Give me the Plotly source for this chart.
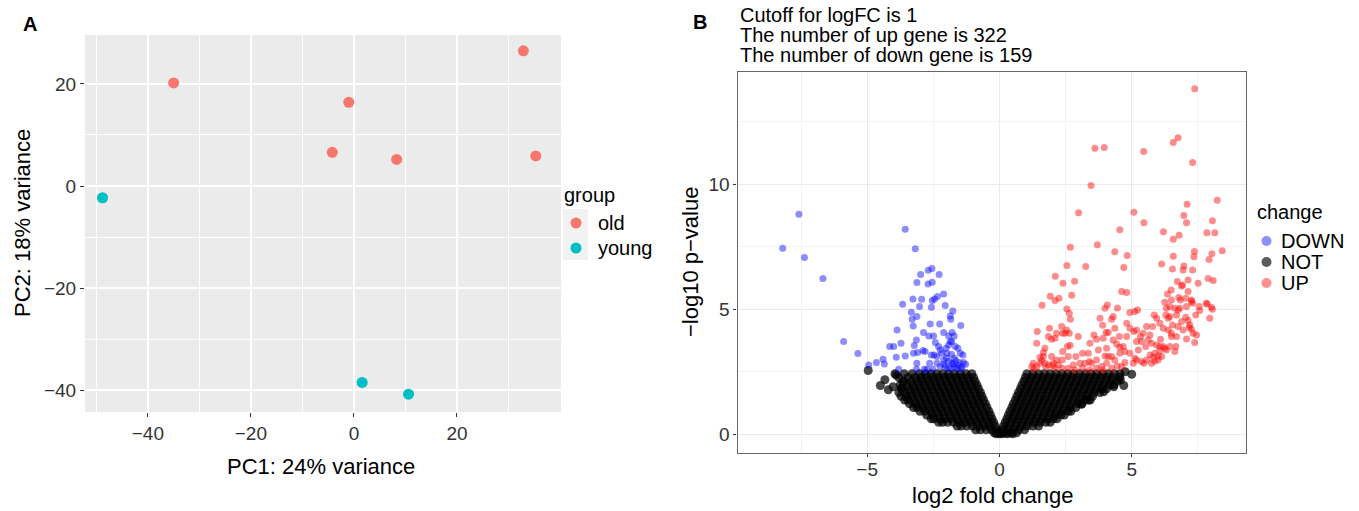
import plotly.graph_objects as go

# ---------------- Panel A: PCA ----------------
pc1_old = [-35.0, -1.0, -4.2, 8.3, 32.9, 35.3]
pc2_old = [20.2, 16.4, 6.6, 5.2, 26.5, 5.9]
pc1_young = [-48.8, 1.6, 10.6]
pc2_young = [-2.3, -38.5, -40.8]

# ---------------- Panel B: volcano ----------------
down_x = [-7.58, -8.19, -7.37, -6.67, -3.56, -3.18, -5.89, -5.35, -4.94, -4.65, -4.40, -4.35, -4.15, -4.0,
          -3.87, -3.72, -3.90, -3.56, -3.81, -3.66, -3.27, -2.94, -3.02, -3.33, -3.30, -3.12, -3.26, -3.14,
          -3.22, -3.25, -3.09, -3.12, -3.14, -2.89, -2.87, -3.12, -2.98, -2.69, -2.55, -2.28, -2.70, -2.54,
          -2.54, -2.45, -2.34, -2.11, -2.57, -2.05, -2.62, -2.26, -2.67, -2.49, -2.42, -2.11, -1.76, -1.86,
          -1.84, -1.46, -1.79, -1.71, -1.80, -1.57, -1.38, -1.28, -2.36, -2.24, -1.99, -1.92, -2.57, -2.64,
          -2.52, -2.74, -2.84, -2.11, -1.80, -1.71, -1.51, -2.05, -1.86, -1.61, -1.42, -2.24, -2.36, -1.92,
          -1.74, -1.36, -2.18, -2.47, -1.81, -1.48, -1.92, -1.86, -1.67, -2.02, -2.30, -2.81, -1.95, -1.70,
          -1.55, -2.10, -1.45, -1.65, -2.00]
down_y = [8.81, 7.45, 7.08, 6.23, 8.21, 7.43, 3.71, 3.23, 2.77, 2.87, 3.0, 2.81, 3.51, 3.51,
          4.17, 3.64, 3.08, 3.13, 2.6, 5.2, 5.41, 5.4, 5.11, 4.88, 4.6, 4.71, 4.33, 3.77,
          3.55, 3.24, 3.27, 2.84, 2.6, 3.35, 4.07, 6.07, 6.39, 6.56, 6.63, 6.39, 6.01, 6.08,
          5.35, 5.41, 5.51, 5.61, 5.08, 5.15, 4.41, 4.41, 3.93, 3.93, 3.67, 4.07, 4.93, 4.73,
          4.6, 4.35, 4.07, 3.93, 3.71, 3.44, 3.17, 2.8, 3.11, 3.37, 3.24, 3.57, 3.17, 2.84,
          2.6, 2.6, 2.6, 2.97, 2.84, 3.04, 2.87, 2.71, 2.64, 2.64, 2.68, 2.71, 2.84, 2.91,
          2.81, 2.87, 3.24, 3.17, 3.2, 3.24, 3.93, 3.71, 3.51, 3.44, 3.51, 3.31, 2.62, 2.7,
          2.75, 2.8, 2.62, 2.95, 3.05]

up_x = [7.38, 6.75, 6.57, 7.30, 3.61, 3.96, 5.45, 3.46, 8.23, 7.09, 2.99, 5.08, 5.46, 6.97, 8.05, 7.07,
        4.55, 6.20, 6.79, 6.57, 7.84, 8.14, 2.68, 3.70, 4.36, 4.83, 7.37, 7.35, 8.42, 8.03, 6.57, 6.13,
        7.92, 2.55, 3.26, 4.70, 6.54, 6.94, 6.97, 7.30, 2.11, 2.40, 2.84, 6.72, 6.92, 7.13, 7.51, 7.89,
        8.08, 6.49, 6.35, 6.88, 7.13, 1.92, 2.10, 2.25, 2.73, 1.61, 2.55, 2.64, 2.68, 4.62, 4.81, 6.78,
        6.84, 7.26, 7.07, 7.42, 8.01, 8.05, 7.95, 7.85, 7.57, 6.25, 6.31, 6.63, 6.82, 7.04, 7.19, 7.45,
        7.38, 7.07, 6.75, 6.54, 6.44, 6.19, 5.94, 5.85, 6.29, 6.50, 6.50, 6.67, 6.63, 6.31, 6.19, 6.09,
        5.87, 6.00, 5.81, 6.06, 5.69, 5.56, 5.46, 5.75, 5.53, 5.37, 5.43, 5.56, 5.18, 5.11, 5.22, 4.93,
        4.81, 4.93, 5.08, 5.25, 5.12, 4.93, 4.81, 4.68, 4.74, 4.55, 4.43, 4.53, 4.36, 4.24, 4.46, 4.30,
        4.11, 4.03, 4.08, 3.99, 3.80, 3.90, 3.92, 3.67, 3.74, 3.99, 4.11, 4.05, 3.86, 3.67, 3.48, 3.36,
        3.23, 3.42, 3.57, 2.98, 3.14, 2.89, 3.04, 2.79, 2.60, 2.67, 2.57, 2.39, 2.37, 2.23, 2.48, 2.54,
        2.35, 2.39, 2.64, 2.16, 2.10, 1.89, 1.97, 1.85, 1.72, 1.66, 1.66, 1.72, 1.85, 1.53, 1.41, 1.43,
        1.28, 1.22, 1.41, 1.53, 2.04, 1.97, 2.16, 2.10, 2.37, 2.60, 2.85, 3.14, 3.40, 3.67, 3.92, 4.24,
        4.45, 4.62, 4.74, 4.36, 4.24, 4.55, 3.40, 4.05, 4.30, 5.87, 6.00, 6.13, 6.25, 6.44, 6.38, 6.69,
        6.94, 7.17, 7.26, 7.32, 7.13, 6.88, 6.69, 6.75, 7.30, 7.26, 7.55, 7.82, 7.04, 6.50, 6.44, 6.38,
        6.06, 5.79, 5.69, 5.62, 5.33, 5.18, 5.75, 5.94, 5.18, 5.06, 5.37, 6.06, 1.30, 1.75, 2.00, 1.60]
up_y = [13.83, 11.87, 11.68, 10.88, 11.45, 11.48, 11.32, 9.96, 9.37, 9.21, 8.87, 8.89, 8.47, 8.76, 8.55, 8.47,
        8.19, 8.11, 7.97, 7.81, 8.07, 8.07, 7.49, 7.59, 7.31, 7.16, 7.32, 7.11, 7.35, 7.23, 7.13, 6.81,
        7.0, 6.75, 6.71, 6.67, 6.61, 6.57, 6.73, 6.57, 6.32, 6.04, 6.12, 6.11, 5.97, 6.17, 6.04, 6.23,
        6.15, 5.77, 5.61, 5.93, 5.71, 5.52, 5.35, 5.44, 5.56, 5.16, 5.01, 4.84, 4.6, 5.71, 5.67, 5.47,
        5.37, 5.31, 5.11, 4.77, 5.08, 5.0, 4.64, 5.21, 4.95, 5.28, 5.04, 5.04, 5.04, 4.68, 4.37, 3.97,
        3.67, 3.81, 4.31, 4.37, 4.71, 4.24, 4.64, 4.77, 4.77, 4.04, 3.91, 3.51, 3.31, 3.37, 3.51, 3.8,
        3.24, 3.13, 3.08, 3.35, 3.17, 2.97, 2.84, 2.84, 3.51, 3.71, 4.04, 4.31, 4.17, 4.91, 4.97, 4.87,
        4.44, 4.24, 4.11, 3.37, 3.04, 3.24, 3.91, 3.51, 3.31, 3.24, 3.61, 3.91, 4.24, 4.6, 5.05, 4.71,
        4.07, 4.07, 5.17, 5.04, 4.64, 4.36, 3.84, 3.8, 3.37, 3.13, 3.11, 2.84, 2.71, 2.97, 2.84, 3.24,
        2.84, 3.64, 3.97, 3.91, 3.24, 3.11, 2.84, 2.77, 3.11, 3.56, 3.51, 3.31, 2.97, 2.77, 4.04, 4.17,
        4.31, 4.04, 4.04, 4.04, 3.84, 4.24, 3.8, 3.91, 3.44, 3.27, 3.11, 2.84, 2.77, 3.08, 3.64, 4.11,
        2.84, 2.71, 2.71, 2.84, 2.84, 3.11, 2.97, 2.64, 2.64, 2.64, 2.57, 2.64, 2.57, 2.64, 2.57, 2.64,
        2.73, 2.71, 2.87, 2.97, 3.11, 3.48, 2.91, 3.44, 3.77, 2.93, 2.97, 3.11, 3.44, 3.51, 4.17, 3.91,
        4.17, 4.27, 4.2, 4.04, 4.55, 4.51, 4.77, 4.97, 5.24, 5.37, 5.11, 5.24, 5.44, 5.37, 5.11, 4.64,
        4.44, 4.31, 3.97, 3.77, 3.91, 3.71, 3.64, 3.57, 2.97, 2.84, 2.91, 3.51, 2.62, 2.68, 2.75, 2.95]

# NOT genes: rows of estimated log2FC values at each -log10 p level
not_rows = [
    (0.02, [-0.12, 0.0, 0.12, 0.3, 0.5]),
    (0.06, [-0.05, -0.2, 0.05, 0.25, 0.45, 0.65]),
    (0.18, [-0.1, -0.3, -0.5, -0.72, -0.9, 0.1, 0.3, 0.52, 0.74, 0.95]),
    (0.33, [-0.16, -0.36, -0.58, -0.8, -1.02, -1.24, -1.46, -1.6,
            0.16, 0.38, 0.6, 0.82, 1.04, 1.26, 1.48]),
    (0.48, [-0.22, -0.42, -0.64, -0.86, -1.08, -1.3, -1.52, -1.74, -1.96, -2.16, -2.3,
            0.22, 0.44, 0.66, 0.88, 1.1, 1.32, 1.54, 1.76, 1.92]),
    (0.62, [-0.28, -0.5, -0.72, -0.94, -1.16, -1.38, -1.6, -1.82, -2.04, -2.26, -2.48, -2.58,
            0.28, 0.5, 0.72, 0.94, 1.16, 1.38, 1.6, 1.82, 2.04, 2.18]),
    (0.77, [-0.34, -0.55, -0.77, -0.99, -1.21, -1.43, -1.65, -1.87, -2.09, -2.31, -2.53, -2.75,
            0.34, 0.56, 0.78, 1.0, 1.22, 1.44, 1.66, 1.88, 2.1, 2.32, 2.45]),
    (0.92, [-0.4, -0.62, -0.84, -1.06, -1.28, -1.5, -1.72, -1.94, -2.16, -2.38, -2.6, -2.82, -3.0,
            0.4, 0.62, 0.84, 1.06, 1.28, 1.5, 1.72, 1.94, 2.16, 2.38, 2.6, 2.7]),
    (1.07, [-0.47, -0.69, -0.91, -1.13, -1.35, -1.57, -1.79, -2.01, -2.23, -2.45, -2.67, -2.89, -3.11, -3.25,
            0.47, 0.69, 0.91, 1.13, 1.35, 1.57, 1.79, 2.01, 2.23, 2.45, 2.67, 2.89]),
    (1.22, [-0.53, -0.75, -0.97, -1.19, -1.41, -1.63, -1.85, -2.07, -2.29, -2.51, -2.73, -2.95, -3.17, -3.4,
            0.53, 0.75, 0.97, 1.19, 1.41, 1.63, 1.85, 2.07, 2.29, 2.51, 2.73, 2.95, 3.12]),
    (1.37, [-0.6, -0.82, -1.04, -1.26, -1.48, -1.7, -1.92, -2.14, -2.36, -2.58, -2.8, -3.02, -3.24, -3.46, -3.58,
            0.6, 0.82, 1.04, 1.26, 1.48, 1.7, 1.92, 2.14, 2.36, 2.58, 2.8, 3.02, 3.24, 3.36]),
    (1.52, [-0.66, -0.88, -1.1, -1.32, -1.54, -1.76, -1.98, -2.2, -2.42, -2.64, -2.86, -3.08, -3.3, -3.52, -3.72,
            0.66, 0.88, 1.1, 1.32, 1.54, 1.76, 1.98, 2.2, 2.42, 2.64, 2.86, 3.08, 3.3, 3.52]),
    (1.67, [-0.72, -0.94, -1.16, -1.38, -1.6, -1.82, -2.04, -2.26, -2.48, -2.7, -2.92, -3.14, -3.36, -3.58, -3.8,
            0.72, 0.94, 1.16, 1.38, 1.6, 1.82, 2.04, 2.26, 2.48, 2.7, 2.92, 3.14, 3.36, 3.58, 3.8]),
    (1.82, [-0.79, -1.01, -1.23, -1.45, -1.67, -1.89, -2.11, -2.33, -2.55, -2.77, -2.99, -3.21, -3.43, -3.7,
            0.79, 1.01, 1.23, 1.45, 1.67, 1.89, 2.11, 2.33, 2.55, 2.77, 2.99, 3.21, 3.43, 3.65, 3.87, 4.05]),
    (1.97, [-0.85, -1.07, -1.29, -1.51, -1.73, -1.95, -2.17, -2.39, -2.61, -2.83, -3.05, -3.27, -3.5, -3.75,
            0.85, 1.07, 1.29, 1.51, 1.73, 1.95, 2.17, 2.39, 2.61, 2.83, 3.05, 3.27, 3.49, 3.71, 3.93, 4.15, 4.32]),
    (2.12, [-0.92, -1.14, -1.36, -1.58, -1.8, -2.02, -2.24, -2.46, -2.68, -2.9, -3.12, -3.34, -3.62,
            0.92, 1.14, 1.36, 1.58, 1.8, 2.02, 2.24, 2.46, 2.68, 2.9, 3.12, 3.34, 3.56, 3.78, 4.0, 4.22, 4.45]),
    (2.27, [-0.98, -1.2, -1.42, -1.64, -1.86, -2.08, -2.3, -2.52, -2.74, -2.96, -3.18, -3.45, -3.8,
            0.98, 1.2, 1.42, 1.64, 1.86, 2.08, 2.3, 2.52, 2.74, 2.96, 3.18, 3.4, 3.62, 3.84, 4.06, 4.28, 4.55]),
    (2.42, [-1.04, -1.26, -1.48, -1.7, -1.92, -2.14, -2.36, -2.58, -2.8, -3.02, -3.3, -3.6, -3.95,
            1.04, 1.26, 1.48, 1.7, 1.92, 2.14, 2.36, 2.58, 2.8, 3.02, 3.24, 3.46, 3.68, 3.9, 4.12, 4.34, 4.56]),
]
not_extra_x = [-4.96, -4.33, -4.20, -4.02, -3.90, -3.64, -3.70, -4.50, 4.75, 5.00, 4.57, 4.32, 3.94, 3.43, 3.10, 4.70]
not_extra_y = [2.55, 2.18, 1.78, 1.90, 2.37, 2.10, 1.84, 1.95, 2.50, 2.40, 2.17, 1.90, 1.70, 1.37, 1.20, 1.95]

not_x, not_y = [], []
for yv, xs in not_rows:
    for xv in xs:
        not_x.append(xv)
        not_y.append(yv)
not_x += not_extra_x
not_y += not_extra_y

title_lines = ["Cutoff for logFC is 1", "The number of up gene is 322", "The number of down gene is 159"]
group_labels = ["old", "young"]
group_colors = ["#F8766D", "#00BFC4"]
change_labels = ["DOWN", "NOT", "UP"]
change_key_colors = ["#8F8FFF", "#5C5C5C", "#FF8F8F"]

W, H = 1359, 511
FONT = "Liberation Sans"

fig = go.Figure()

fig.add_trace(go.Scatter(x=pc1_old, y=pc2_old, mode="markers", name="old", showlegend=False,
                         marker=dict(color=group_colors[0], size=11), xaxis="x", yaxis="y"))
fig.add_trace(go.Scatter(x=pc1_young, y=pc2_young, mode="markers", name="young", showlegend=False,
                         marker=dict(color=group_colors[1], size=11), xaxis="x", yaxis="y"))

fig.add_trace(go.Scatter(x=not_x, y=not_y, mode="markers", name="NOT", showlegend=False,
                         marker=dict(color="black", size=9, opacity=0.72, line=dict(width=0)),
                         xaxis="x2", yaxis="y2"))
fig.add_trace(go.Scatter(x=down_x, y=down_y, mode="markers", name="DOWN", showlegend=False,
                         marker=dict(color="blue", size=7, opacity=0.45, line=dict(width=0)),
                         xaxis="x2", yaxis="y2"))
fig.add_trace(go.Scatter(x=up_x, y=up_y, mode="markers", name="UP", showlegend=False,
                         marker=dict(color="red", size=7, opacity=0.45, line=dict(width=0)),
                         xaxis="x2", yaxis="y2"))


def px(v):
    return v / W


def py(v):
    return 1 - v / H


tickfont = dict(family=FONT, size=19, color="#333333")

fig.update_layout(
    width=W, height=H, autosize=False,
    margin=dict(l=0, r=0, t=0, b=0),
    paper_bgcolor="white",
    font=dict(family=FONT, color="black"),
    showlegend=False,
    xaxis=dict(domain=[px(85), px(561)], range=[-52.2, 40.2], tickvals=[-40, -20, 0, 20],
               showgrid=True, gridcolor="white", gridwidth=1.6, zeroline=False,
               minor=dict(tickvals=[-50, -30, -10, 10, 30], showgrid=True, gridcolor="white", gridwidth=0.7),
               ticks="outside", ticklen=4, tickcolor="#333333", tickfont=tickfont, anchor="y",
               showline=False),
    yaxis=dict(domain=[py(412), py(35)], range=[-44.3, 29.6], tickvals=[-40, -20, 0, 20],
               showgrid=True, gridcolor="white", gridwidth=1.6, zeroline=False,
               minor=dict(tickvals=[-30, -10, 10], showgrid=True, gridcolor="white", gridwidth=0.7),
               ticks="outside", ticklen=4, tickcolor="#333333", tickfont=tickfont, anchor="x",
               showline=False),
    xaxis2=dict(domain=[px(737.5), px(1245.5)], range=[-9.9, 9.3], tickvals=[-5, 0, 5],
                showgrid=True, gridcolor="#EBEBEB", gridwidth=1.2, zeroline=False,
                minor=dict(tickvals=[-7.5, -2.5, 2.5, 7.5], showgrid=True, gridcolor="#F3F3F3", gridwidth=0.6),
                ticks="outside", ticklen=3, tickcolor="#333333", tickfont=tickfont, anchor="y2",
                ticklabelstandoff=-4,
                showline=True, linecolor="#666666", linewidth=1.2, mirror=True),
    yaxis2=dict(domain=[py(453), py(72)], range=[-0.75, 14.5], tickvals=[0, 5, 10],
                showgrid=True, gridcolor="#EBEBEB", gridwidth=1.2, zeroline=False,
                minor=dict(tickvals=[2.5, 7.5, 12.5], showgrid=True, gridcolor="#F3F3F3", gridwidth=0.6),
                ticks="outside", ticklen=3, tickcolor="#333333", tickfont=tickfont, anchor="x2",
                showline=True, linecolor="#666666", linewidth=1.2, mirror=True),
    plot_bgcolor="#EBEBEB",
)

shapes = [
    # white background for panel B plotting area
    dict(type="rect", xref="x2 domain", yref="y2 domain", x0=0, x1=1, y0=0, y1=1,
         fillcolor="white", line=dict(width=0), layer="below"),
    # legend key background for group legend
    dict(type="rect", xref="paper", yref="paper", x0=px(563), x1=px(588), y0=py(260), y1=py(209),
         fillcolor="#F2F2F2", line=dict(width=0), layer="below"),
]

annotations = [
    dict(text="<b>A</b>", x=px(30), y=py(24), xref="paper", yref="paper", showarrow=False,
         font=dict(family=FONT, size=20, color="black"), xanchor="center", yanchor="middle"),
    dict(text="<b>B</b>", x=px(700), y=py(22), xref="paper", yref="paper", showarrow=False,
         font=dict(family=FONT, size=20, color="black"), xanchor="center", yanchor="middle"),
    dict(text="PC1: 24% variance", x=px(321), y=py(466), xref="paper", yref="paper", showarrow=False,
         font=dict(family=FONT, size=22, color="black"), xanchor="center", yanchor="middle"),
    dict(text="PC2: 18% variance", x=px(22), y=py(223), xref="paper", yref="paper", showarrow=False,
         textangle=-90, font=dict(family=FONT, size=22, color="black"), xanchor="center", yanchor="middle"),
    dict(text="log2 fold change", x=px(993), y=py(495), xref="paper", yref="paper", showarrow=False,
         font=dict(family=FONT, size=22, color="black"), xanchor="center", yanchor="middle"),
    dict(text="\u2212log10 p\u2212value", x=px(690), y=py(262), xref="paper", yref="paper", showarrow=False,
         textangle=-90, font=dict(family=FONT, size=22, color="black"), xanchor="center", yanchor="middle"),
    dict(text="group", x=px(562), y=py(195), xref="paper", yref="paper", showarrow=False,
         font=dict(family=FONT, size=20, color="black"), xanchor="left", yanchor="middle"),
    dict(text="change", x=px(1255), y=py(212), xref="paper", yref="paper", showarrow=False,
         font=dict(family=FONT, size=20, color="black"), xanchor="left", yanchor="middle"),
]
for i, line in enumerate(title_lines):
    annotations.append(dict(text=line, x=px(738), y=py(15 + 20 * i), xref="paper", yref="paper",
                            showarrow=False, font=dict(family=FONT, size=20, color="black"),
                            xanchor="left", yanchor="middle"))

# group legend entries
for i, (lab, col) in enumerate(zip(group_labels, group_colors)):
    cy = 223 + 25 * i
    shapes.append(dict(type="circle", xref="paper", yref="paper",
                       x0=px(576 - 5.5), x1=px(576 + 5.5), y0=py(cy + 5.5), y1=py(cy - 5.5),
                       fillcolor=col, line=dict(width=0)))
    annotations.append(dict(text=lab, x=px(596), y=py(cy), xref="paper", yref="paper", showarrow=False,
                            font=dict(family=FONT, size=20, color="black"), xanchor="left", yanchor="middle"))

# change legend entries
for i, (lab, col) in enumerate(zip(change_labels, change_key_colors)):
    cy = 241 + 21 * i
    shapes.append(dict(type="circle", xref="paper", yref="paper",
                       x0=px(1266.5 - 5), x1=px(1266.5 + 5), y0=py(cy + 5), y1=py(cy - 5),
                       fillcolor=col, line=dict(width=0)))
    annotations.append(dict(text=lab, x=px(1279), y=py(cy), xref="paper", yref="paper", showarrow=False,
                            font=dict(family=FONT, size=20, color="black"), xanchor="left", yanchor="middle"))

fig.update_layout(annotations=annotations, shapes=shapes)

fig.write_html("out.html")
